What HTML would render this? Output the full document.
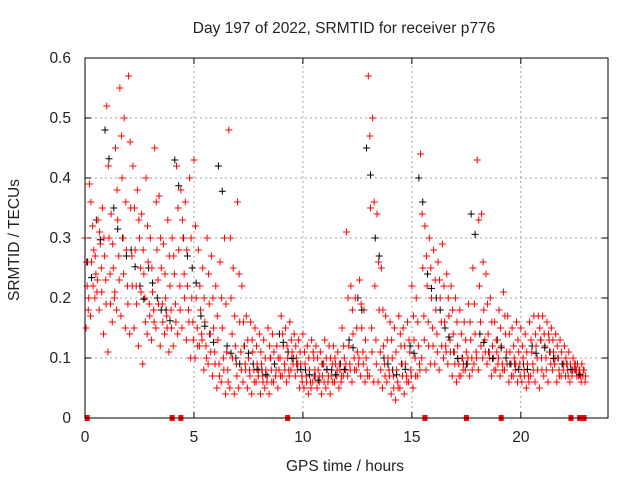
<!DOCTYPE html>
<html>
<head>
<meta charset="utf-8">
<style>
  html, body { margin: 0; padding: 0; background: #fff; }
  svg { display: block; font-family: "Liberation Sans", "DejaVu Sans", sans-serif; }
</style>
</head>
<body>
<svg id="chart" width="640" height="480" viewBox="0 0 640 480" xmlns="http://www.w3.org/2000/svg">
  <rect x="0" y="0" width="640" height="480" fill="#fff"/>
  <text x="344" y="33" font-size="15.5" text-anchor="middle" fill="#222">Day 197 of 2022, SRMTID for receiver p776</text>
  <text x="345" y="471" font-size="15.5" text-anchor="middle" fill="#222">GPS time / hours</text>
  <text x="19" y="240" font-size="15.5" text-anchor="middle" fill="#222" transform="rotate(-90 19 240)">SRMTID / TECUs</text>
  <g id="grid"></g>
  <g id="ticks"></g>
  <g id="marks"></g>
  <rect x="85" y="58" width="523" height="360" fill="none" stroke="#000" stroke-width="1"/>
</svg>
<script>
// ---- data ----
const xTicks = [0, 5, 10, 15, 20];
const yTicks = [0, 0.1, 0.2, 0.3, 0.4, 0.5, 0.6];
const yTickLabels = ["0", "0.1", "0.2", "0.3", "0.4", "0.5", "0.6"];
const stepHours = 0.2;
const redHigh = [.30,.39,.28,.33,.35, .52,.34,.45,.55,.50, .57,.42,.38,.34,.40, .30,.45,.37,.29,.33, .30,.42,.38,.36,.40, .43,.28,.25,.30,.27, .22,.26,.30,.48,.25, .36,.22,.17,.16,.15, .14,.13,.15,.14,.12, .17,.15,.16,.14,.13, .14,.12,.13,.12,.11, .13,.12,.12,.11,.15, .31,.22,.20,.23,.18, .57,.50,.34,.25,.17, .16,.15,.17,.15,.16, .22,.20,.44,.32,.30, .28,.26,.29,.24,.22, .20,.18,.16,.19,.25, .43,.34,.24,.20,.16, .18,.21,.17,.15,.16, .15,.14,.16,.17,.17, .17,.16,.15,.14,.13, .12,.11,.10,.09,.09];
const redLow = [.15,.17,.20,.18,.14, .11,.16,.18,.17,.15, .14,.15,.12,.09,.14, .13,.15,.12,.14,.11, .12,.14,.15,.13,.10, .10,.12,.08,.09,.07, .05,.06,.04,.05,.04, .05,.06,.05,.04,.06, .04,.05,.04,.06,.05, .07,.06,.08,.07,.05, .05,.04,.06,.05,.04, .05,.04,.06,.05,.07, .07,.06,.08,.07,.06, .07,.06,.06,.05,.06, .04,.03,.05,.04,.06, .05,.07,.10,.08,.09, .09,.08,.10,.09,.07, .06,.07,.08,.07,.09, .08,.10,.09,.07,.08, .07,.08,.06,.07,.06, .06,.05,.07,.06,.05, .07,.06,.08,.06,.07, .07,.06,.08,.07,.07];
const redMidA = [.22,.26,.24,.29,.27, .30,.25,.33,.40,.28, .35,.28,.30,.24,.26, .21,.28,.25,.20,.22, .24,.28,.30,.22,.20, .20,.18,.16,.19,.15, .13,.15,.11,.20,.12, .16,.12,.10,.11,.09, .09,.08,.10,.09,.08, .12,.10,.11,.10,.09, .09,.08,.10,.08,.07, .08,.07,.09,.08,.10, .12,.14,.11,.15,.10, .35,.22,.18,.12,.10, .10,.08,.12,.09,.11, .13,.12,.25,.22,.20, .18,.20,.16,.17,.14, .12,.10,.11,.13,.14, .22,.18,.14,.12,.11, .12,.14,.11,.10,.11, .10,.09,.11,.12,.13, .12,.13,.11,.10,.09, .09,.08,.09,.08,.08];
const redMidB = [.18,.32,.21,.25,.23, .24,.20,.27,.30,.22, .27,.22,.25,.20,.19, .18,.23,.19,.17,.18, .19,.22,.24,.18,.16, .15,.14,.12,.14,.11, .09,.10,.08,.14,.09, .11,.09,.08,.08,.07, .07,.06,.08,.07,.10, .09,.08,.09,.08,.07, .07,.06,.08,.06,.09, .06,.09,.07,.06,.08, .09,.10,.09,.11,.08, .15,.13,.11,.09,.08, .07,.06,.09,.07,.08, .10,.09,.17,.16,.15, .14,.16,.12,.13,.11, .09,.08,.09,.10,.11, .16,.13,.11,.10,.09, .09,.11,.09,.08,.09, .08,.07,.09,.10,.10, .10,.11,.09,.08,.08, .08,.07,.08,.07,.06];
const redMidC = [.26,.36,.27,.31,.30, .42,.29,.38,.47,.36, .46,.35,.33,.28,.32, .25,.36,.30,.24,.27, .27,.35,.33,.28,.30, .32,.22,.20,.24,.20, .17,.20,.19,.30,.17, .24,.16,.13,.13,.12, .11,.10,.12,.11,.10, .14,.12,.13,.12,.11, .11,.10,.11,.10,.09, .10,.10,.10,.09,.12, .20,.18,.15,.19,.13, .47,.36,.26,.18,.13, .13,.11,.14,.12,.13, .17,.16,.34,.27,.25, .23,.23,.22,.20,.18, .16,.14,.13,.16,.19, .33,.26,.19,.16,.13, .15,.17,.14,.12,.13, .12,.11,.13,.14,.15, .14,.14,.13,.12,.11, .10,.09,.09,.08,.08];
const redMidD = [.20,.22,.23,.21,.19, .19,.21,.23,.24,.19, .22,.19,.21,.16,.17, .16,.19,.16,.15,.15, .16,.18,.20,.16,.13, .12,.13,.10,.11,.09, .07,.08,.06,.10,.07, .08,.08,.07,.06,.08, .06,.07,.06,.08,.07, .08,.07,.10,.09,.06, .06,.05,.07,.07,.06, .07,.06,.08,.07,.09, .08,.08,.10,.09,.07, .11,.09,.08,.07,.07, .05,.05,.07,.06,.07, .07,.08,.13,.12,.12, .11,.12,.11,.11,.09, .07,.09,.10,.08,.10, .12,.11,.10,.08,.10, .08,.09,.07,.09,.07, .07,.06,.08,.08,.08, .08,.09,.10,.07,.09, .07,.08,.07,.06,.07];
const blackStepHours = 0.4;
const blackVals = [.26,.33,.48,.35,.30,.28,.22,.25,.20,.18, .43,.30,.25,.17,.14,.42,.12,.10,.12,.09, .08,.10,.14,.11,.09,.08,.07,.09,.08,.09, .13,.20,.45,.30,.10,.08,.09,.12,.40,.24, .20,.15,.11,.10,.34,.14,.11,.13,.10,.09, .09,.12,.13,.11,.10,.09,.08];
const zeroTimes = [0.1, 4.0, 4.4, 9.3, 15.6, 17.5, 19.1, 22.3, 22.7, 22.9];

// ---- axes ----
const X0 = 85, X1 = 608, Y0 = 418, Y1 = 58;
const xMax = 24, yMax = 0.6;
const xs = v => X0 + (v / xMax) * (X1 - X0);
const ys = v => Y0 - (v / yMax) * (Y0 - Y1);
const NS = "http://www.w3.org/2000/svg";
function mk(tag, attrs, parent) {
  const e = document.createElementNS(NS, tag);
  for (const k in attrs) e.setAttribute(k, attrs[k]);
  parent.appendChild(e);
  return e;
}
const grid = document.getElementById('grid');
const ticks = document.getElementById('ticks');
const marks = document.getElementById('marks');

xTicks.forEach((t, i) => {
  const x = xs(t);
  if (i > 0) {
    const g = mk('line', {x1: x, y1: Y0, x2: x, y2: Y1, stroke: '#a0a0a0', 'stroke-width': 1, 'stroke-dasharray': '2,3'}, grid);
    
    
  }
  mk('line', {x1: x, y1: Y0, x2: x, y2: Y0 - 6, stroke: '#000'}, ticks);
  mk('line', {x1: x, y1: Y1, x2: x, y2: Y1 + 6, stroke: '#000'}, ticks);
  const lb = mk('text', {x: x, y: Y0 + 24, 'font-size': 15.5, 'text-anchor': 'middle', fill: '#222'}, ticks);
  lb.textContent = String(t);
  
  
});
yTicks.forEach((t, i) => {
  const y = ys(t);
  if (i > 0 && i < yTicks.length - 1) {
    const g = mk('line', {x1: X0, y1: y, x2: X1, y2: y, stroke: '#a0a0a0', 'stroke-width': 1, 'stroke-dasharray': '2,3'}, grid);
    
    
  }
  mk('line', {x1: X0, y1: y, x2: X0 + 6, y2: y, stroke: '#000'}, ticks);
  mk('line', {x1: X1, y1: y, x2: X1 - 6, y2: y, stroke: '#000'}, ticks);
  const lb = mk('text', {x: X0 - 14, y: y + 5, 'font-size': 15.5, 'text-anchor': 'end', fill: '#222'}, ticks);
  lb.textContent = yTickLabels[i];
  
  
});

function plus(t, v, color, name) {
  const x = xs(t), y = ys(v);
  const p = mk('path', {d: `M${x-3.5},${y}H${x+3.5}M${x},${y-3.5}V${y+3.5}`, stroke: color, 'stroke-width': 1, fill: 'none'}, marks);
  
  
}
blackVals.forEach((v, i) => plus(i * blackStepHours + 0.12, v, '#000000', 'black-point'));
redHigh.forEach((v, i) => plus(i * stepHours, v, '#ff0000', 'red-point'));
redLow.forEach((v, i) => plus(i * stepHours + 0.05, v, '#ff0000', 'red-point'));
redMidA.forEach((v, i) => plus(i * stepHours + 0.1, v, '#ff0000', 'red-point'));
redMidB.forEach((v, i) => plus(i * stepHours + 0.15, v, '#ff0000', 'red-point'));
redMidC.forEach((v, i) => plus(i * stepHours + 0.07, v, '#ff0000', 'red-point'));
redMidD.forEach((v, i) => plus(i * stepHours + 0.17, v, '#ff0000', 'red-point'));
blackVals.forEach((v, i) => plus(i * blackStepHours + 0.3, v * 0.9, '#000000', 'black-point'));
zeroTimes.forEach(t => {
  const r = mk('rect', {x: xs(t) - 2.5, y: Y0 - 3, width: 5, height: 6, fill: '#ff0000'}, marks);
  
  
});
</script>
</body>
</html>
